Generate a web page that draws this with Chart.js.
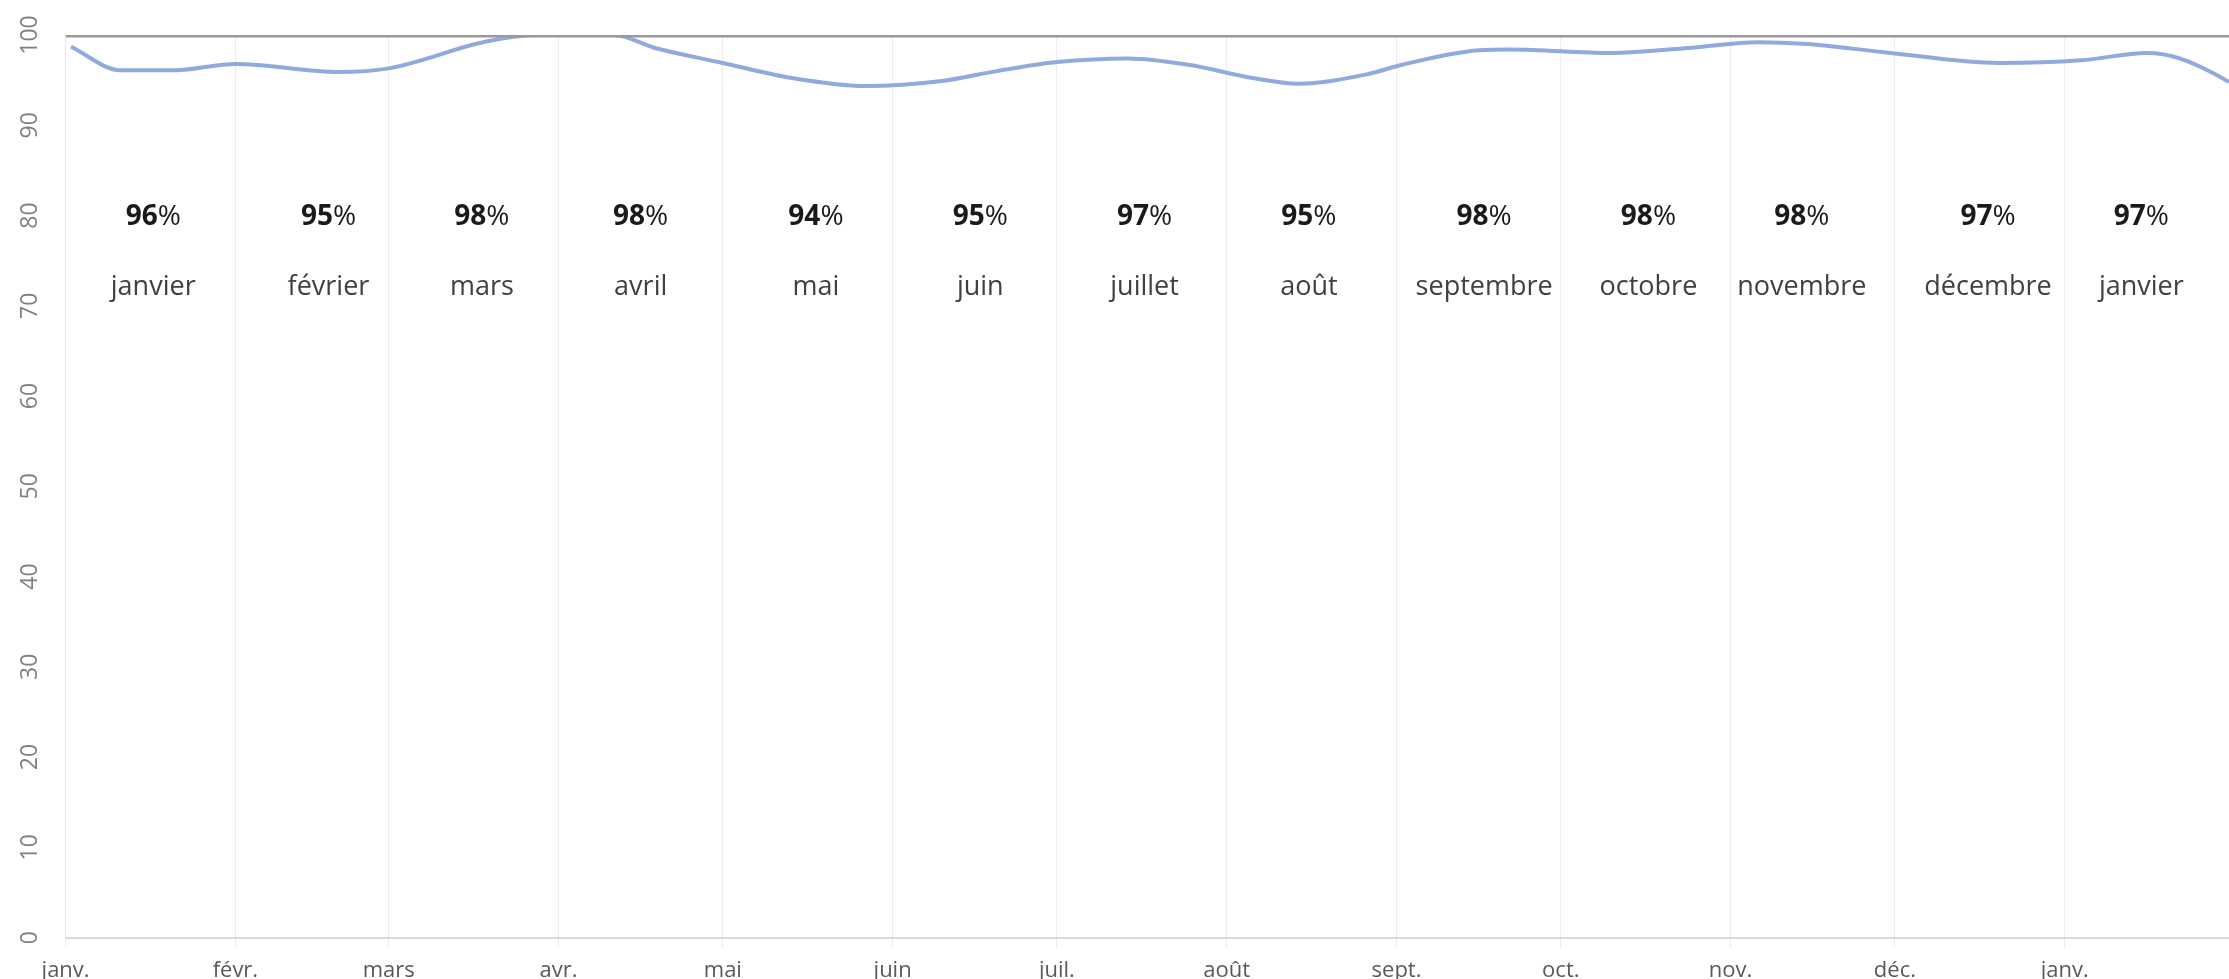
<!DOCTYPE html>
<html lang="fr">
<head>
<meta charset="utf-8">
<title>Taux mensuel</title>
<script src="https://cdn.jsdelivr.net/npm/chart.js"></script>
<style>
    html, body { margin: 0; padding: 0; background: #ffffff; overflow: hidden; }
    #wrap { position: relative; width: 2229px; height: 994px; }
</style>
</head>
<body>
<div id="wrap"><canvas id="chart"></canvas></div>
<script>
// Axe X en jours depuis le 1er janvier
const monthStarts = [0, 31, 59, 90, 120, 151, 181, 212, 243, 273, 304, 334, 365];
const monthTicks = ['janv.', 'févr.', 'mars', 'avr.', 'mai', 'juin', 'juil.', 'août', 'sept.', 'oct.', 'nov.', 'déc.', 'janv.'];

// Libellés du graphique (jour où chaque étiquette est centrée)
const monthNames = ['janvier', 'février', 'mars', 'avril', 'mai', 'juin', 'juillet', 'août', 'septembre', 'octobre', 'novembre', 'décembre', 'janvier'];
const monthPercents = [96, 95, 98, 98, 94, 95, 97, 95, 98, 98, 98, 97, 97];
const labelDays = [16, 48, 76, 105, 137, 167, 197, 227, 259, 289, 317, 351, 379];

// Courbe
const lineDays = [1, 10, 20, 31, 50, 59, 77, 86, 100, 108, 120, 132, 146, 160, 170, 181, 194, 205, 217, 225, 238, 244, 258, 264, 282, 297, 309, 318, 332, 353, 368, 380, 386, 395, 402];
const lineValues = [98.7, 96.1, 96.1, 96.8, 95.9, 96.3, 99.3, 100, 100, 98.5, 96.9, 95.3, 94.35, 94.9, 96.0, 97.0, 97.4, 96.7, 95.2, 94.6, 95.7, 96.7, 98.3, 98.4, 98.0, 98.6, 99.2, 99.0, 98.1, 96.9, 97.2, 98.0, 97.4, 94.8, 92.0];

// Objectif 100 %
const targetDays = [0, 402];
const targetValues = [100, 100];

const FONT = '"Open Sans", "Noto Sans", sans-serif';

// Draws the percent + month name labels inside the plot
const monthLabelsPlugin = {
    id: 'monthLabels',
    afterDatasetsDraw(chart) {
        const { ctx, scales: { x, y } } = chart;
        ctx.save();
        ctx.textBaseline = 'middle';
        monthNames.forEach((name, i) => {
            const px = x.getPixelForValue(labelDays[i]);

            // "96" en gras, "%" normal
            const num = String(monthPercents[i]);
            ctx.font = 'bold 28px ' + FONT;
            const wNum = ctx.measureText(num).width;
            ctx.font = '28px ' + FONT;
            const wPct = ctx.measureText('%').width;
            const left = px - (wNum + wPct) / 2;
            const py = y.getPixelForValue(79.8);
            ctx.textAlign = 'left';
            ctx.fillStyle = '#1a1a1a';
            ctx.font = 'bold 28px ' + FONT;
            ctx.fillText(num, left, py);
            ctx.font = '28px ' + FONT;
            ctx.fillText('%', left + wNum, py);

            ctx.textAlign = 'center';
            ctx.font = '27px ' + FONT;
            ctx.fillStyle = '#404040';
            ctx.fillText(name, px, y.getPixelForValue(72.0));
        });
        ctx.restore();
    }
};

new Chart(document.getElementById('chart'), {
    type: 'line',
    data: {
        datasets: [
            {
                label: 'Taux',
                data: lineDays.map((d, i) => ({ x: d, y: lineValues[i] })),
                borderColor: '#8faadc',
                borderWidth: 4,
                pointRadius: 0,
                cubicInterpolationMode: 'monotone',
                fill: false,
                order: 2
            },
            {
                label: 'Objectif',
                data: targetDays.map((d, i) => ({ x: d, y: targetValues[i] })),
                borderColor: '#9a9a9a',
                borderWidth: 5,
                pointRadius: 0,
                fill: false,
                order: 1
            }
        ]
    },
    options: {
        responsive: true,
        maintainAspectRatio: false,
        animation: false,
        layout: { padding: { top: 35, left: 8, right: 0, bottom: 0 } },
        plugins: {
            legend: { display: false },
            tooltip: { enabled: false }
        },
        scales: {
            x: {
                type: 'linear',
                min: 0,
                max: 395,
                afterBuildTicks: axis => { axis.ticks = monthStarts.map(v => ({ value: v })); },
                ticks: {
                    autoSkip: false,
                    maxRotation: 0,
                    padding: 10,
                    color: '#595959',
                    font: { family: FONT, size: 22 },
                    callback: (value, index) => monthTicks[index]
                },
                grid: { color: '#ececec', lineWidth: 1, tickLength: 10 },
                border: { color: '#d9d9d9', width: 2 }
            },
            y: {
                min: 0,
                max: 100,
                ticks: {
                    stepSize: 10,
                    minRotation: 90,
                    maxRotation: 90,
                    crossAlign: 'center',
                    padding: 15,
                    color: '#808080',
                    font: { family: FONT, size: 23 }
                },
                grid: { display: false, drawTicks: false },
                border: { color: '#e6e6e6', width: 1 }
            }
        }
    },
    plugins: [monthLabelsPlugin]
});
</script>
</body>
</html>
